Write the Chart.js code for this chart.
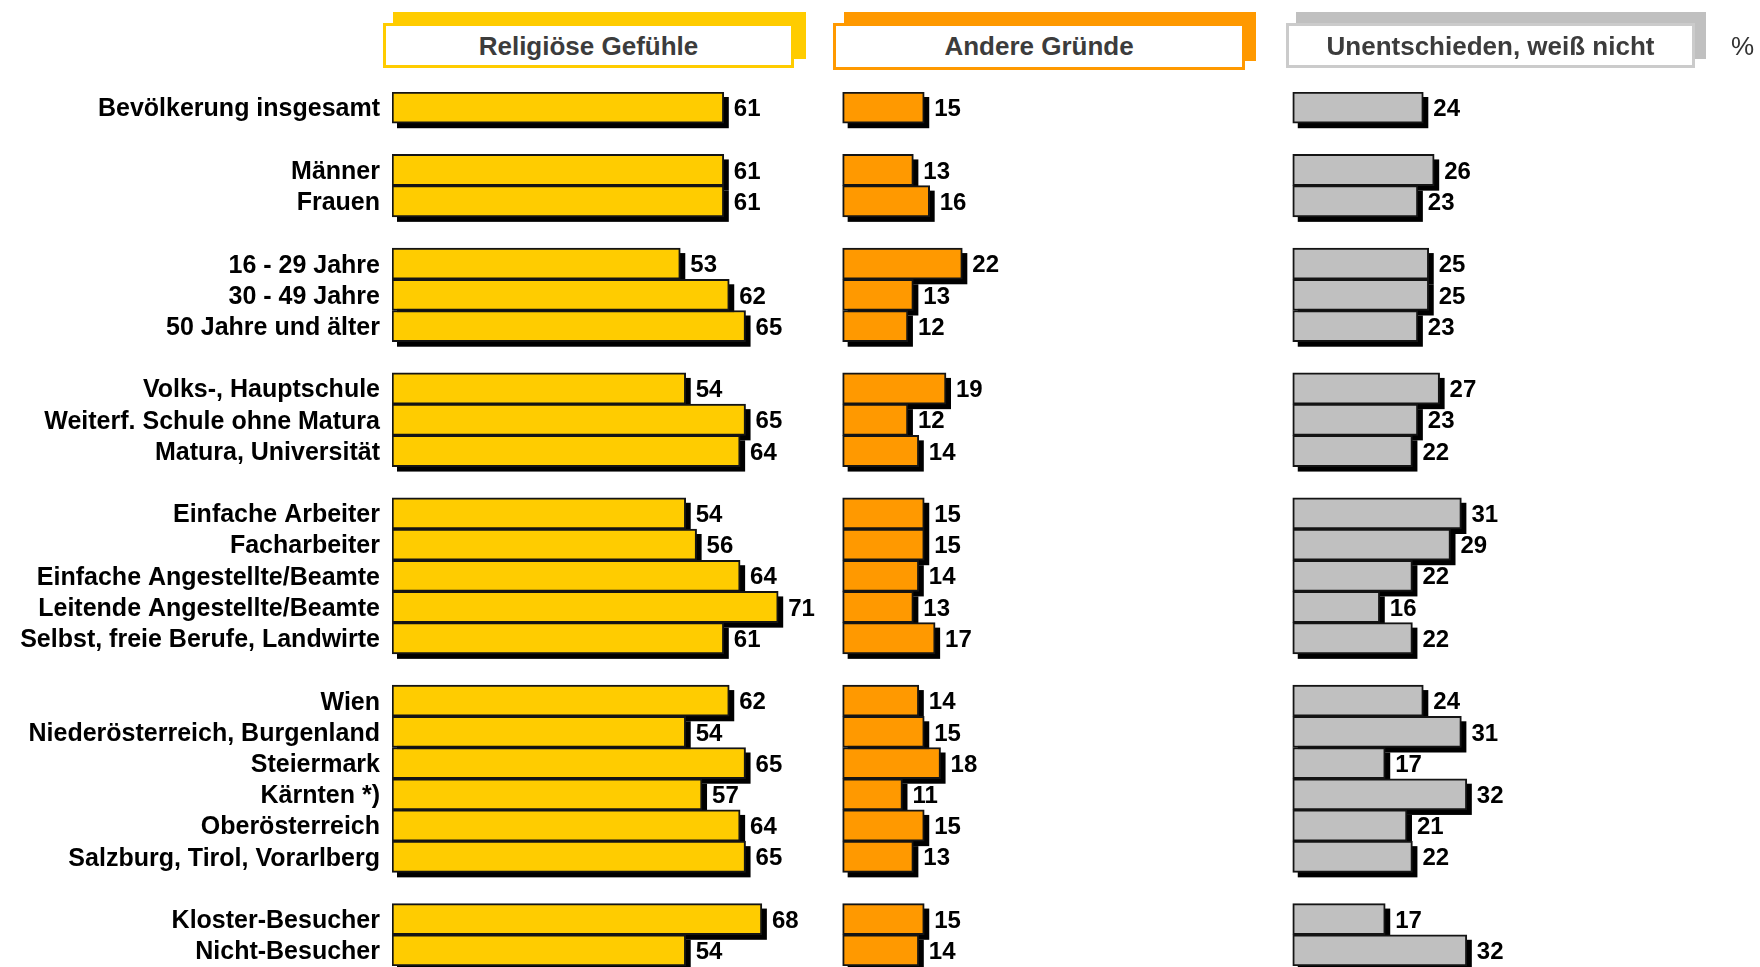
<!DOCTYPE html>
<html lang="de">
<head>
    <meta charset="utf-8">
    <title>Religiöse Gefühle</title>
    <script src="https://cdn.jsdelivr.net/npm/chart.js@4.4.1/dist/chart.umd.min.js"></script>
    <style>
        body { margin: 0; background: #fff; }
        #wrap { position: relative; width: 1760px; height: 967px; overflow: hidden; }
        #gr { position: absolute; left: 0; top: 0; }
        .shade { position: absolute; }
        .head {
            position: absolute;
            box-sizing: border-box;
            background: #fff;
            border: 3px solid;
            font: bold 26px "Liberation Sans", Arial, sans-serif;
            color: #3c3c3c;
            text-align: center;
        }
        #pct {
            position: absolute;
            left: 1731px;
            top: 31px;
            font: 26px "Liberation Sans", Arial, sans-serif;
            color: #333;
        }
    </style>
</head>
<body>
<div id="wrap">
    <canvas id="gr" width="1760" height="967"></canvas>

    <!-- Kopfzeilen der drei Spalten -->
    <div class="shade" style="left:393px;top:12px;width:413px;height:47px;background:#FFCC00"></div>
    <div class="head" style="left:383px;top:23px;width:411px;height:45px;line-height:41px;border-color:#FFCC00">Religiöse Gefühle</div>

    <div class="shade" style="left:844px;top:12px;width:412px;height:49px;background:#FF9900"></div>
    <div class="head" style="left:833px;top:23px;width:412px;height:47px;line-height:41px;border-color:#FF9900">Andere Gründe</div>

    <div class="shade" style="left:1296px;top:12px;width:410px;height:47px;background:#C0C0C0"></div>
    <div class="head" style="left:1286px;top:23px;width:409px;height:45px;line-height:41px;border-color:#CBCBCB">Unentschieden, weiß nicht</div>

    <div id="pct">%</div>
</div>

<script>
    //Zeilen (leere Einträge = Abstand zwischen den Gruppen)
    const categories = [
        'Bevölkerung insgesamt', '',
        'Männer', 'Frauen', '',
        '16 - 29 Jahre', '30 - 49 Jahre', '50 Jahre und älter', '',
        'Volks-, Hauptschule', 'Weiterf. Schule ohne Matura', 'Matura, Universität', '',
        'Einfache Arbeiter', 'Facharbeiter', 'Einfache Angestellte/Beamte', 'Leitende Angestellte/Beamte', 'Selbst, freie Berufe, Landwirte', '',
        'Wien', 'Niederösterreich, Burgenland', 'Steiermark', 'Kärnten *)', 'Oberösterreich', 'Salzburg, Tirol, Vorarlberg', '',
        'Kloster-Besucher', 'Nicht-Besucher'
    ];

    const religious = [61, null, 61, 61, null, 53, 62, 65, null, 54, 65, 64, null, 54, 56, 64, 71, 61, null, 62, 54, 65, 57, 64, 65, null, 68, 54];
    const otherReasons = [15, null, 13, 16, null, 22, 13, 12, null, 19, 12, 14, null, 15, 15, 14, 13, 17, null, 14, 15, 18, 11, 15, 13, null, 15, 14];
    const undecided = [24, null, 26, 23, null, 25, 25, 23, null, 27, 23, 22, null, 31, 29, 22, 16, 22, null, 24, 31, 17, 32, 21, 22, null, 17, 32];

    const seriesNames = ['Religiöse Gefühle', 'Andere Gründe', 'Unentschieden, weiß nicht'];

    //Spalten liegen nebeneinander auf einer gemeinsamen x-Achse
    const panelStart = [0, 82.85, 165.6];
    const xMax = 251.5;
    const colors = ['#FFCC00', '#FF9900', '#C0C0C0'];

    const allValues = [religious, otherReasons, undecided];

    const datasets = allValues.map((vals, i) => ({
        label: seriesNames[i],
        data: vals.map(v => v == null ? null : [panelStart[i], panelStart[i] + v]),
        backgroundColor: colors[i],
        borderColor: '#141414',
        borderWidth: 2,
        borderSkipped: false,
        categoryPercentage: 1,
        barPercentage: 1,
        grouped: false
    }));

    //schwarzer Schatten rechts unten
    const shadowPlugin = {
        id: 'shadow',
        beforeDatasetsDraw(chart) {
            const ctx = chart.ctx;
            ctx.save();
            ctx.fillStyle = '#000';
            chart.data.datasets.forEach((ds, i) => {
                chart.getDatasetMeta(i).data.forEach((el, j) => {
                    if (allValues[i][j] == null) { return; }
                    const p = el.getProps(['x', 'y', 'base', 'height'], true);
                    const left = Math.min(p.x, p.base);
                    ctx.fillRect(left + 5, p.y - p.height / 2 + 5, Math.abs(p.x - p.base), p.height);
                });
            });
            ctx.restore();
        },
        afterDatasetsDraw(chart) {
            //Werte neben die Balken
            const ctx = chart.ctx;
            ctx.save();
            ctx.fillStyle = '#000';
            ctx.font = 'bold 24px "Liberation Sans", Arial, sans-serif';
            ctx.textAlign = 'left';
            ctx.textBaseline = 'middle';
            chart.data.datasets.forEach((ds, i) => {
                chart.getDatasetMeta(i).data.forEach((el, j) => {
                    const v = allValues[i][j];
                    if (v == null) { return; }
                    const p = el.getProps(['x', 'y'], true);
                    ctx.fillText(String(v), p.x + 10, p.y + 2);
                });
            });
            ctx.restore();
        }
    };

    new Chart(document.getElementById('gr').getContext('2d'), {
        type: 'bar',
        data: { labels: categories, datasets: datasets },
        options: {
            indexAxis: 'y',
            responsive: false,
            animation: false,
            devicePixelRatio: 1,
            layout: { padding: { top: 92, bottom: 1, left: 0, right: 0 } },
            plugins: { legend: { display: false }, tooltip: { enabled: false } },
            scales: {
                x: {
                    display: false,
                    min: 0,
                    max: xMax
                },
                y: {
                    grid: { display: false, drawTicks: false },
                    border: { display: false },
                    ticks: {
                        color: '#000',
                        padding: 12,
                        labelOffset: 2,
                        autoSkip: false,
                        font: { family: '"Liberation Sans", Arial, sans-serif', size: 25, weight: 'bold' }
                    },
                    afterFit(scale) {
                        scale.width = 392;
                        scale.paddingTop = 0;
                        scale.paddingBottom = 0;
                    }
                }
            }
        },
        plugins: [shadowPlugin]
    });
</script>
</body>
</html>
